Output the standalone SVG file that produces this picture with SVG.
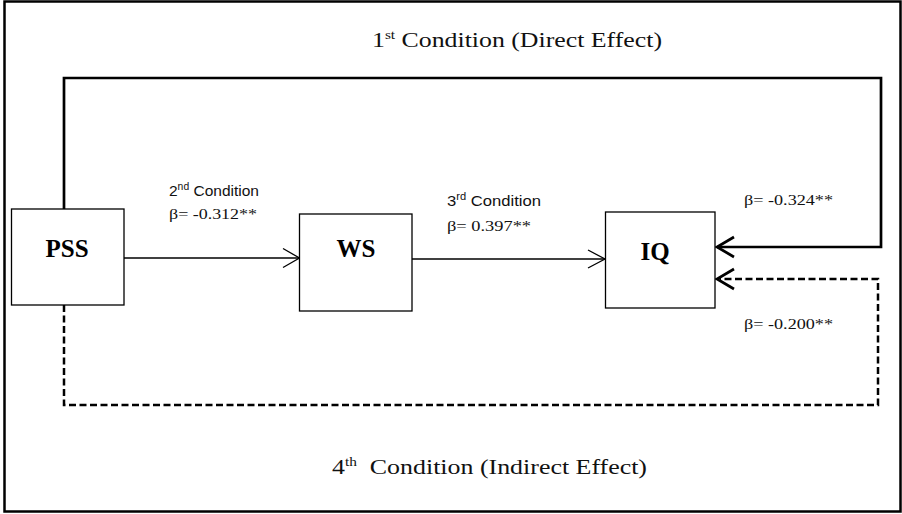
<svg xmlns="http://www.w3.org/2000/svg" width="902" height="514" viewBox="0 0 902 514">
<style>
.box{fill:#fff;stroke:#000;stroke-width:1.3}
.node{font-family:"Liberation Serif","Times New Roman",serif;font-weight:bold;font-size:25px;text-anchor:middle;fill:#000}
.cond{font-family:"Liberation Sans",Arial,sans-serif;font-size:15px;fill:#111}
.beta{font-family:"Liberation Serif","Times New Roman",serif;font-size:15px;fill:#111}
.title{font-family:"Liberation Serif","Times New Roman",serif;font-size:22px;fill:#111}
.thin{fill:none;stroke:#000;stroke-width:1.3}
.thick{fill:none;stroke:#000;stroke-width:2.7}
.dash{fill:none;stroke:#000;stroke-width:2.5;stroke-dasharray:7 3.5}
</style>
<rect x="0" y="0" width="902" height="514" fill="#fff"/>
<rect x="4.5" y="1.5" width="896" height="510" fill="none" stroke="#000" stroke-width="2.5"/>
<g id="connectors">
<path class="thick" d="M64,209 V78 H881 V247 H717"/>
<path class="thick" d="M734,237 L717,247 L734,257"/>
<path class="dash" d="M64,305 V405 H878 V279 H720"/>
<path class="thick" d="M734,269 L717,279 L734,289"/>
<path class="thin" d="M124,258 H299"/>
<path class="thin" d="M283,248.5 L299.5,258 L283,267.5"/>
<path class="thin" d="M412,259 H605"/>
<path class="thin" d="M588,250 L605,259 L588,268"/>
</g>
<g id="PSS">
<rect class="box" x="11.5" y="209" width="112.5" height="96"/>
<text class="node" x="67" y="257">PSS</text>
</g>
<g id="WS">
<rect class="box" x="299.5" y="214" width="112.5" height="97"/>
<text class="node" x="356" y="257">WS</text>
</g>
<g id="IQ">
<rect class="box" x="605.5" y="212" width="109.5" height="96"/>
<text class="node" x="655" y="260">IQ</text>
</g>
<g id="labels">
<text class="title" x="372" y="47" textLength="290" lengthAdjust="spacingAndGlyphs">1<tspan font-size="13" dy="-8">st</tspan><tspan dy="8"> Condition (Direct Effect)</tspan></text>
<text class="title" x="332" y="474" textLength="315" lengthAdjust="spacingAndGlyphs">4<tspan font-size="13" dy="-8">th</tspan><tspan dy="8" xml:space="preserve">  Condition (Indirect Effect)</tspan></text>
<text class="cond" x="169" y="196" textLength="90" lengthAdjust="spacingAndGlyphs">2<tspan font-size="10" dy="-6">nd</tspan><tspan dy="6"> Condition</tspan></text>
<text class="beta" x="169" y="219" textLength="88" lengthAdjust="spacingAndGlyphs">β= -0.312**</text>
<text class="cond" x="447" y="206" textLength="94" lengthAdjust="spacingAndGlyphs">3<tspan font-size="10" dy="-6">rd</tspan><tspan dy="6"> Condition</tspan></text>
<text class="beta" x="447" y="231" textLength="84" lengthAdjust="spacingAndGlyphs">β= 0.397**</text>
<text class="beta" x="744" y="205" textLength="89" lengthAdjust="spacingAndGlyphs">β= -0.324**</text>
<text class="beta" x="744" y="329" textLength="89" lengthAdjust="spacingAndGlyphs">β= -0.200**</text>
</g>
</svg>
